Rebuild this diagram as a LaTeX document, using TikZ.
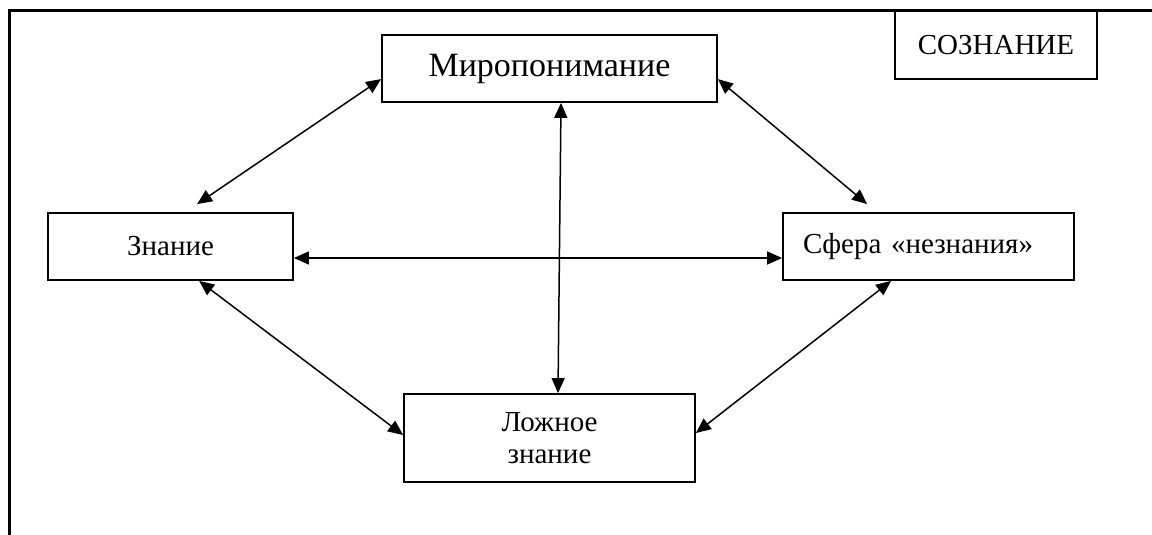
\documentclass[tikz,border=0pt]{standalone}
\usepackage{fontspec}
\setmainfont{Liberation Serif}
\usetikzlibrary{arrows.meta,calc}

\tikzset{
  blok/.style={draw, line width=1.8pt, rectangle, inner sep=0pt, align=center},
  svyaz/.style={line width=1.5pt, {Triangle[length=15pt,width=13pt]}-{Triangle[length=15pt,width=13pt]}}
}

\begin{document}
\begin{tikzpicture}[x=1pt,y=1pt,yscale=-1,xscale=1]
        \useasboundingbox (0,0) rectangle (1152,535);
        %Straight Lines: frame
        \draw [line width=3pt]   (1152,11) -- (9,11) -- (9,535) ;

        %Shape: Rectangle [Mir]
        \node [blok, minimum width=335, minimum height=67, font=\fontsize{34}{38}\selectfont] (mir) at (549.5,68.5) {Миропонимание};
        %Shape: Rectangle [Soznanie]
        \node [blok, minimum width=202, minimum height=68, font=\fontsize{29}{33}\selectfont] (soz) at (996,45) {СОЗНАНИЕ};
        %Shape: Rectangle [Znanie]
        \node [blok, minimum width=245, minimum height=67, font=\fontsize{29}{33}\selectfont] (zn) at (170.5,246.5) {Знание};
        %Shape: Rectangle [Sfera]
        \node [blok, minimum width=291, minimum height=67, text width=251, inner xsep=20, align=left, font=\fontsize{29}{33}\selectfont] (sf) at (928.5,246.5) {Сфера «незнания»};
        %Shape: Rectangle [Lozhnoe]
        \node [blok, minimum width=291, minimum height=88, font=\fontsize{29}{32}\selectfont] (lz) at (549.5,438) {Ложное\\знание};

        %Straight Lines [mir - zn]
        \draw [svyaz] ($(mir.north west)+(0,45)$) -- ($(zn.north west)+(150,-8)$) ;
        %Straight Lines [mir - sf]
        \draw [svyaz] ($(mir.north east)+(0,45)$) -- ($(sf.north west)+(85,-8)$) ;
        %Straight Lines [mir - lz]
        \draw [svyaz] ($(mir.south)+(11.5,0)$) -- ($(lz.north)+(8.5,0)$) ;
        %Straight Lines [zn - sf]
        \draw [svyaz] ($(zn.east)+(0,11.5)$) -- ($(sf.west)+(0,11.5)$) ;
        %Straight Lines [zn - lz]
        \draw [svyaz] ($(zn.south west)+(152,0)$) -- ($(lz.west)+(0,-3)$) ;
        %Straight Lines [sf - lz]
        \draw [svyaz] ($(sf.south west)+(109,0)$) -- ($(lz.east)+(0,-5)$) ;
\end{tikzpicture}
\end{document}
